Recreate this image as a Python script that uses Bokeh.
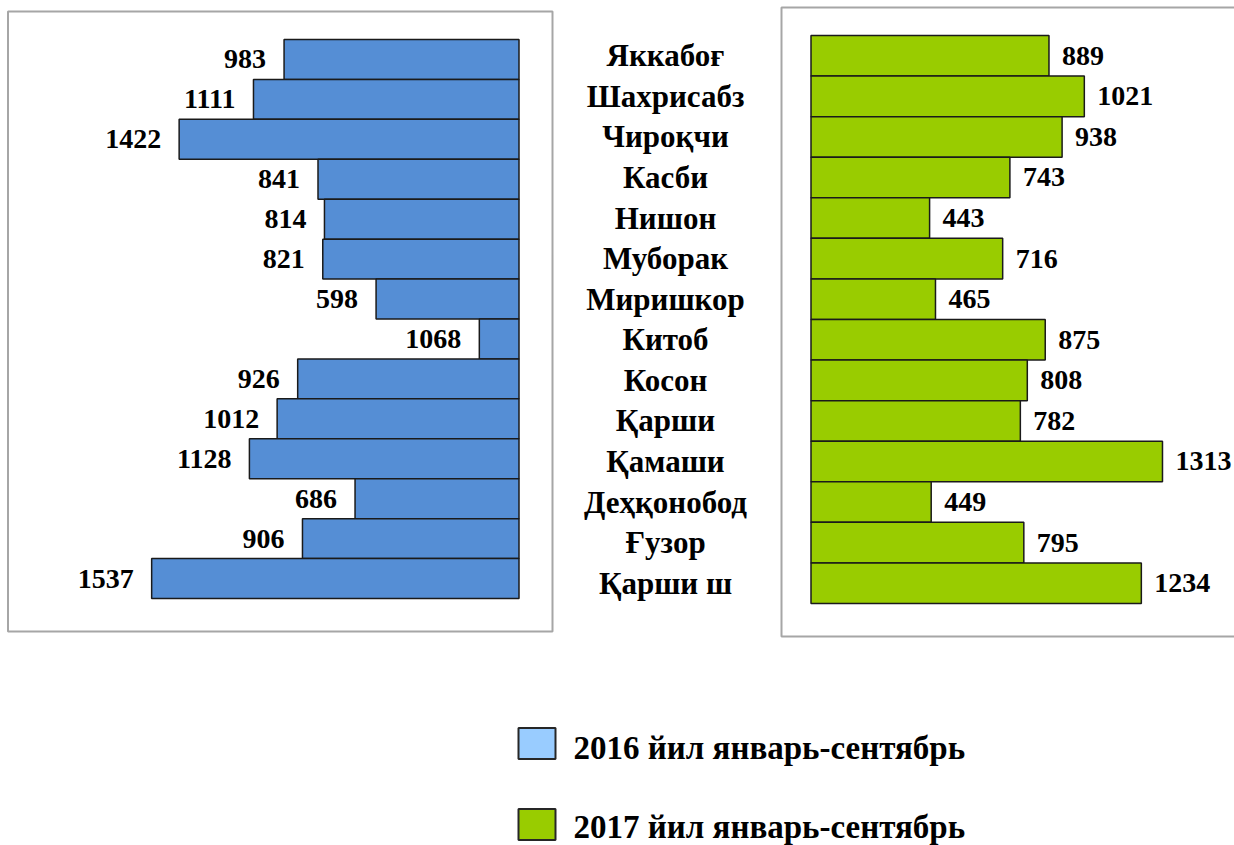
from bokeh.plotting import figure
from bokeh.models import Range1d, ColumnDataSource
from bokeh.core.properties import value
from bokeh.embed import file_html
from bokeh.resources import INLINE

# ---------------- data ----------------
categories = ["Яккабоғ", "Шахрисабз", "Чироқчи", "Касби", "Нишон", "Муборак",
              "Миришкор", "Китоб", "Косон", "Қарши", "Қамаши", "Деҳқонобод",
              "Ғузор", "Қарши ш"]
# bar lengths as drawn in the source chart (the Китоб bar is drawn short there)
values_2016 = [983, 1111, 1422, 841, 814, 821, 598, 166, 926, 1012, 1128, 686, 906, 1537]
labels_2016 = ["983", "1111", "1422", "841", "814", "821", "598", "1068", "926",
               "1012", "1128", "686", "906", "1537"]
values_2017 = [889, 1021, 938, 743, 443, 716, 465, 875, 808, 782, 1313, 449, 795, 1234]
labels_2017 = [str(v) for v in values_2017]
series_names = ["2016 йил январь-сентябрь", "2017 йил январь-сентябрь"]

# ---------------- layout helpers ----------------
W, H = 1234, 845
PX0, PX1 = 0, W
PY0, PY1 = 0, H

FONT = value("Liberation Serif")
BLUE = "#558ed5"
GREEN = "#99cc00"
LEG_BLUE = "#99ccff"
BOX = "#a6a6a6"


def lin_x(px_zero, px_per_unit):
    # value range so that value 0 sits at page px_zero
    return Range1d(start=(PX0 - px_zero) / px_per_unit, end=(PX1 - px_zero) / px_per_unit)


def lin_rows(top_px, row_h):
    # index range: row i centre at top_px + row_h*(i+0.5); y axis points down
    return Range1d(start=(PY1 - top_px) / row_h - 0.5, end=(PY0 - top_px) / row_h - 0.5)


p = figure(width=W, height=H, output_backend="svg", toolbar_location=None,
           x_range=Range1d(PX0, PX1), y_range=Range1d(PY1, PY0),
           min_border=0, x_axis_type=None, y_axis_type=None)
p.outline_line_color = None
p.grid.visible = False
p.background_fill_color = "white"
p.border_fill_color = "white"

p.extra_x_ranges = {"l": lin_x(518.5, -0.239), "r": lin_x(810.5, 0.2677)}
p.extra_y_ranges = {"l": lin_rows(39, 39.93), "r": lin_rows(35, 40.57)}

# panel frames
p.quad(left=[7.5, 781], right=[552, 1250], top=[11, 7], bottom=[631, 636],
       fill_color=None, line_color=BOX, line_width=2)

idx = list(range(len(categories)))
src16 = ColumnDataSource(dict(y=idx, v=values_2016, lab=labels_2016))
src17 = ColumnDataSource(dict(y=idx, v=values_2017, lab=labels_2017, cat=categories))

p.hbar(y="y", left=0, right="v", height=1.0, source=src16, fill_color=BLUE,
       line_color="#1a1a1a", line_width=1.5, x_range_name="l", y_range_name="l")
p.hbar(y="y", left=0, right="v", height=1.0, source=src17, fill_color=GREEN,
       line_color="#1a1a1a", line_width=1.5, x_range_name="r", y_range_name="r")

p.text(x="v", y="y", text="lab", source=src16, x_range_name="l", y_range_name="l",
       x_offset=-18, text_align="right", text_baseline="middle",
       text_font=FONT, text_font_style="bold", text_font_size="28px", text_color="black")
p.text(x="v", y="y", text="lab", source=src17, x_range_name="r", y_range_name="r",
       x_offset=13, text_align="left", text_baseline="middle",
       text_font=FONT, text_font_style="bold", text_font_size="28px", text_color="black")

# category names between the panels
p.text(x=665, y="y", text="cat", source=src17, y_range_name="r",
       text_align="center", text_baseline="middle",
       text_font=FONT, text_font_style="bold", text_font_size="31px", text_color="black")

# legend
leg = ColumnDataSource(dict(x=[536.5, 536.5], y=[743, 824], c=[LEG_BLUE, GREEN],
                            tx=[573, 573], ty=[747, 826], t=series_names))
p.rect(x="x", y="y", width=37, height=31, fill_color="c", line_color="#262626",
       line_width=2, source=leg)
p.text(x="tx", y="ty", text="t", source=leg, text_align="left", text_baseline="middle",
       text_font=FONT, text_font_style="bold", text_font_size="33px", text_color="black")

open("out.html", "w").write(file_html(p, INLINE))
